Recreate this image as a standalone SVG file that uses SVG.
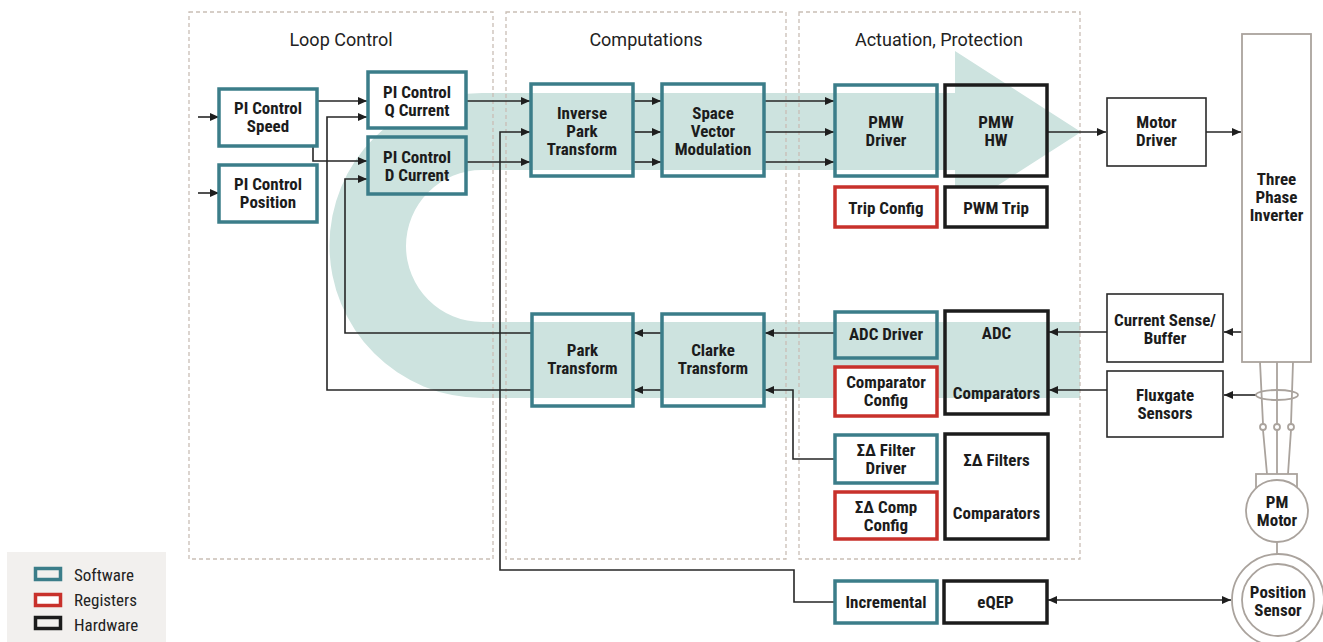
<svg xmlns="http://www.w3.org/2000/svg" width="1323" height="642" viewBox="0 0 1323 642">
  <defs>
    <marker id="arrow" viewBox="0 0 9 8" markerWidth="9" markerHeight="8" refX="9" refY="4" markerUnits="userSpaceOnUse" orient="auto-start-reverse">
      <path d="M0,0 L9,4 L0,8 Z" fill="#1e1e1e"/>
    </marker>
    <style>
      .zone { fill: none; stroke: #c9beb5; stroke-width: 1.3; stroke-dasharray: 4 3; }
      .zone-title { font-family: Roboto, "Liberation Sans", sans-serif; font-size: 18px; fill: #222; text-anchor: middle; }
      .sw { fill: none; stroke: #3b7d89; stroke-width: 3.5; }
      .sw-w { fill: #fff; stroke: #3b7d89; stroke-width: 3.5; }
      .reg { fill: #fff; stroke: #c8312b; stroke-width: 3.5; }
      .hw { fill: none; stroke: #1c1c1c; stroke-width: 3.5; }
      .hw-w { fill: #fff; stroke: #1c1c1c; stroke-width: 3.5; }
      .ext { fill: #fff; stroke: #2a2a2a; stroke-width: 1.6; }
      .plant { fill: #fff; stroke: #aaa39d; stroke-width: 1.8; }
      .plant-line { fill: none; stroke: #aaa39d; stroke-width: 1.8; }
      .lbl { font-family: "Roboto Condensed", "Liberation Sans Narrow", Roboto, sans-serif; font-stretch: condensed; font-weight: 700; font-size: 17px; fill: #1c1c1c; text-anchor: middle; }
      .wire { fill: none; stroke: #262626; stroke-width: 1.6; }
      .legend-txt { font-family: Roboto, "Liberation Sans", sans-serif; font-stretch: condensed; font-size: 17px; fill: #222; }
    </style>
  </defs>

  <!-- background flow arrow -->
  <path d="M955 93 L482 93 A152.5 152.5 0 0 0 482 398 L1080 398 L1080 322 L482 322 A76 76 0 0 1 482 170 L955 170 L955 213 L1081 132 L955 51 Z" fill="#cde3df"/>

  <!-- zones -->
  <g id="zones">
    <rect class="zone" x="189" y="12" width="304" height="547"/>
    <rect class="zone" x="506" y="12" width="280" height="547"/>
    <rect class="zone" x="799" y="12" width="281" height="547"/>
    <text class="zone-title" x="341" y="46">Loop Control</text>
    <text class="zone-title" x="646" y="46">Computations</text>
    <text class="zone-title" x="939" y="46">Actuation, Protection</text>
  </g>

  <!-- connectors -->
  <g id="connectors">
    <path class="wire" d="M198 117 H219" marker-end="url(#arrow)"/>
    <path class="wire" d="M198 193 H219" marker-end="url(#arrow)"/>
    <path class="wire" d="M317 101 H367" marker-end="url(#arrow)"/>
    <path class="wire" d="M313 146 V161 H367" marker-end="url(#arrow)"/>
    <path class="wire" d="M531 390 H327 V117 H367" marker-end="url(#arrow)"/>
    <path class="wire" d="M531 333 H345 V179 H367" marker-end="url(#arrow)"/>
    <path class="wire" d="M466 101 H530" marker-end="url(#arrow)"/>
    <path class="wire" d="M466 162 H530" marker-end="url(#arrow)"/>
    <path class="wire" d="M835 602 H794 V570 H500 V132 H530" marker-end="url(#arrow)"/>
    <path class="wire" d="M633 101 H661" marker-end="url(#arrow)"/>
    <path class="wire" d="M633 132 H661" marker-end="url(#arrow)"/>
    <path class="wire" d="M633 162 H661" marker-end="url(#arrow)"/>
    <path class="wire" d="M764 101 H834" marker-end="url(#arrow)"/>
    <path class="wire" d="M764 132 H834" marker-end="url(#arrow)"/>
    <path class="wire" d="M764 162 H834" marker-end="url(#arrow)"/>
    <path class="wire" d="M1047 132 H1106" marker-end="url(#arrow)"/>
    <path class="wire" d="M1206 132 H1241" marker-end="url(#arrow)"/>
    <path class="wire" d="M1242 332 H1224" marker-end="url(#arrow)"/>
    <path class="wire" d="M1107 332 H1049" marker-end="url(#arrow)"/>
    <path class="wire" d="M1256 395 H1224" marker-end="url(#arrow)"/>
    <path class="wire" d="M1107 390 H1049" marker-end="url(#arrow)"/>
    <path class="wire" d="M835 333 H765" marker-end="url(#arrow)"/>
    <path class="wire" d="M662 333 H634" marker-end="url(#arrow)"/>
    <path class="wire" d="M835 459 H793 V390 H765" marker-end="url(#arrow)"/>
    <path class="wire" d="M662 390 H634" marker-end="url(#arrow)"/>
    <path class="wire" d="M1048 600 H1231" marker-start="url(#arrow)" marker-end="url(#arrow)"/>
  </g>

  <!-- loop control -->
  <g id="pi-speed">
    <rect class="sw-w" x="219" y="89" width="98" height="57"/>
    <text class="lbl" x="268" y="114">PI Control</text>
    <text class="lbl" x="268" y="132">Speed</text>
  </g>
  <g id="pi-position">
    <rect class="sw-w" x="219" y="165" width="98" height="57"/>
    <text class="lbl" x="268" y="190">PI Control</text>
    <text class="lbl" x="268" y="208">Position</text>
  </g>
  <g id="pi-q-current">
    <rect class="sw-w" x="368" y="72" width="98" height="56"/>
    <text class="lbl" x="417" y="98">PI Control</text>
    <text class="lbl" x="417" y="116">Q Current</text>
  </g>
  <g id="pi-d-current">
    <rect class="sw" x="368" y="137" width="98" height="57"/>
    <text class="lbl" x="417" y="163">PI Control</text>
    <text class="lbl" x="417" y="181">D Current</text>
  </g>

  <!-- computations -->
  <g id="inverse-park">
    <rect class="sw" x="531" y="84" width="102" height="92"/>
    <text class="lbl" x="582" y="119">Inverse</text>
    <text class="lbl" x="582" y="137">Park</text>
    <text class="lbl" x="582" y="155">Transform</text>
  </g>
  <g id="svm">
    <rect class="sw" x="662" y="84" width="102" height="92"/>
    <text class="lbl" x="713" y="119">Space</text>
    <text class="lbl" x="713" y="137">Vector</text>
    <text class="lbl" x="713" y="155">Modulation</text>
  </g>
  <g id="park">
    <rect class="sw" x="532" y="314" width="101" height="92"/>
    <text class="lbl" x="582.5" y="356">Park</text>
    <text class="lbl" x="582.5" y="374">Transform</text>
  </g>
  <g id="clarke">
    <rect class="sw" x="662" y="314" width="102" height="92"/>
    <text class="lbl" x="713" y="356">Clarke</text>
    <text class="lbl" x="713" y="374">Transform</text>
  </g>

  <!-- actuation, protection -->
  <g id="pwm-driver">
    <rect class="sw" x="835" y="85" width="102" height="91"/>
    <text class="lbl" x="886" y="128">PMW</text>
    <text class="lbl" x="886" y="146">Driver</text>
  </g>
  <g id="pwm-hw">
    <rect class="hw" x="945" y="85" width="102" height="91"/>
    <text class="lbl" x="996" y="128">PMW</text>
    <text class="lbl" x="996" y="146">HW</text>
  </g>
  <g id="trip-config">
    <rect class="reg" x="835" y="187" width="102" height="40"/>
    <text class="lbl" x="886" y="214">Trip Config</text>
  </g>
  <g id="pwm-trip">
    <rect class="hw-w" x="945" y="187" width="102" height="40"/>
    <text class="lbl" x="996" y="214">PWM Trip</text>
  </g>
  <g id="adc-driver">
    <rect class="sw" x="835" y="312" width="102" height="46"/>
    <text class="lbl" x="886" y="340">ADC Driver</text>
  </g>
  <g id="comparator-config">
    <rect class="reg" x="835" y="367" width="102" height="49"/>
    <text class="lbl" x="886" y="388">Comparator</text>
    <text class="lbl" x="886" y="406">Config</text>
  </g>
  <g id="adc">
    <rect class="hw" x="945" y="311" width="103" height="103"/>
    <text class="lbl" x="996.5" y="339">ADC</text>
    <text class="lbl" x="996.5" y="399">Comparators</text>
  </g>
  <g id="sd-filter-driver">
    <rect class="sw-w" x="835" y="435" width="102" height="48"/>
    <text class="lbl" x="886" y="456">ΣΔ Filter</text>
    <text class="lbl" x="886" y="474">Driver</text>
  </g>
  <g id="sd-comp-config">
    <rect class="reg" x="835" y="492" width="102" height="47"/>
    <text class="lbl" x="886" y="513">ΣΔ Comp</text>
    <text class="lbl" x="886" y="531">Config</text>
  </g>
  <g id="sd-filters">
    <rect class="hw-w" x="945" y="434" width="103" height="105"/>
    <text class="lbl" x="996.5" y="466">ΣΔ Filters</text>
    <text class="lbl" x="996.5" y="519">Comparators</text>
  </g>
  <g id="incremental">
    <rect class="sw-w" x="835" y="581" width="102" height="42"/>
    <text class="lbl" x="886" y="608">Incremental</text>
  </g>
  <g id="eqep">
    <rect class="hw-w" x="944" y="581" width="103" height="42"/>
    <text class="lbl" x="995.5" y="608">eQEP</text>
  </g>

  <!-- power stage and machine -->
  <g id="motor-driver">
    <rect class="ext" x="1107" y="98" width="99" height="68"/>
    <text class="lbl" x="1156.5" y="128">Motor</text>
    <text class="lbl" x="1156.5" y="146">Driver</text>
  </g>
  <g id="current-sense">
    <rect class="ext" x="1107" y="294" width="116" height="68"/>
    <text class="lbl" x="1165" y="326">Current Sense/</text>
    <text class="lbl" x="1165" y="344">Buffer</text>
  </g>
  <g id="fluxgate">
    <rect class="ext" x="1107" y="371" width="116" height="66"/>
    <text class="lbl" x="1165" y="401">Fluxgate</text>
    <text class="lbl" x="1165" y="419">Sensors</text>
  </g>
  <g id="inverter">
    <rect class="plant" x="1242" y="34" width="69" height="328"/>
    <text class="lbl" x="1276.5" y="185">Three</text>
    <text class="lbl" x="1276.5" y="203">Phase</text>
    <text class="lbl" x="1276.5" y="221">Inverter</text>
  </g>
  <g id="phase-wires">
    <path class="plant-line" d="M1260 362 L1263 424 M1263 430 L1267 474"/>
    <path class="plant-line" d="M1277 362 V424 M1277 430 V474"/>
    <path class="plant-line" d="M1293 362 L1291 424 M1291 430 L1288 474"/>
    <circle class="plant" cx="1263" cy="427" r="3"/>
    <circle class="plant" cx="1277" cy="427" r="3"/>
    <circle class="plant" cx="1291" cy="427" r="3"/>
    <ellipse class="plant-line" cx="1277" cy="395" rx="21" ry="5"/>
  </g>
  <g id="pm-motor">
    <rect class="plant" x="1256" y="474" width="41" height="16"/>
    <circle class="plant" cx="1277" cy="511" r="31"/>
    <text class="lbl" x="1277" y="508">PM</text>
    <text class="lbl" x="1277" y="526">Motor</text>
    <path class="plant-line" d="M1277 542 V554"/>
  </g>
  <g id="position-sensor">
    <circle class="plant" cx="1278" cy="600" r="46"/>
    <circle class="plant" cx="1278" cy="600" r="36"/>
    <text class="lbl" x="1278" y="598">Position</text>
    <text class="lbl" x="1278" y="616">Sensor</text>
  </g>

  <!-- legend -->
  <g id="legend">
    <rect x="7" y="552" width="159" height="90" fill="#f2f0ee"/>
    <rect class="sw" x="35.5" y="568.5" width="25" height="11" stroke-width="3"/>
    <rect class="reg" x="35.5" y="594.5" width="25" height="11" stroke-width="3" fill="none"/>
    <rect class="hw" x="35.5" y="617.5" width="25" height="11" stroke-width="3"/>
    <text class="legend-txt" x="74" y="581">Software</text>
    <text class="legend-txt" x="74" y="606">Registers</text>
    <text class="legend-txt" x="74" y="631">Hardware</text>
  </g>
</svg>
